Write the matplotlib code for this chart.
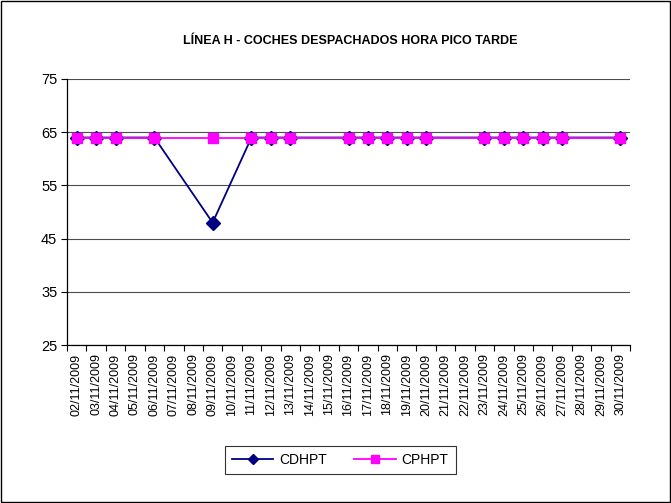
import matplotlib
matplotlib.use("Agg")
import matplotlib.pyplot as plt
from matplotlib.ticker import FixedLocator

plt.rcParams['font.family'] = ['Liberation Sans', 'DejaVu Sans']

categories = [f"{d:02d}/11/2009" for d in range(2, 31)]
data_days = [2, 3, 4, 6, 9, 11, 12, 13, 16, 17, 18, 19, 20, 23, 24, 25, 26, 27, 30]
cdhpt = [64, 64, 64, 64, 48, 64, 64, 64, 64, 64, 64, 64, 64, 64, 64, 64, 64, 64, 64]
cphpt = [64, 64, 64, 64, 64, 64, 64, 64, 64, 64, 64, 64, 64, 64, 64, 64, 64, 64, 64]
yticks = [25, 35, 45, 55, 65, 75]
title = "LÍNEA H - COCHES DESPACHADOS HORA PICO TARDE"

fig = plt.figure(figsize=(6.71, 5.03), dpi=100)
ax = fig.add_axes([0.0999, 0.314, 0.839, 0.529])

xs = [categories.index(f"{d:02d}/11/2009") for d in data_days]
ax.plot(xs, cdhpt, color='#000080', lw=1.3, marker='D', ms=7, mfc='#000080', mec='#000080', label='CDHPT', zorder=3)
ax.plot(xs, cphpt, color='#FF00FF', lw=1.3, marker='s', ms=7.5, mfc='#FF00FF', mec='#FF00FF', label='CPHPT', zorder=4)

ax.set_xlim(-0.5, len(categories) - 0.5)
ax.set_ylim(yticks[0], yticks[-1])
ax.yaxis.set_major_locator(FixedLocator(yticks))
ax.grid(axis='y', color='#000000', lw=0.8, alpha=0.7)
ax.set_axisbelow(True)

ax.set_xticks(range(len(categories)))
ax.set_xticklabels(categories, rotation=90, fontsize=9)
ax.xaxis.set_minor_locator(FixedLocator([i - 0.5 for i in range(len(categories) + 1)]))
ax.tick_params(axis='x', which='major', length=0, pad=6)
ax.tick_params(axis='x', which='minor', length=4, direction='out', width=0.8)
ax.tick_params(axis='y', labelsize=10.5, length=4, width=0.8, pad=3)

for s in ['top', 'right']:
    ax.spines[s].set_visible(False)
for s in ['left', 'bottom']:
    ax.spines[s].set_color('#000000')
    ax.spines[s].set_linewidth(0.9)

fig.text(0.522, 0.918, title, ha='center', va='center', fontsize=9, fontweight='bold')

leg = fig.legend(loc='center', bbox_to_anchor=(0.507, 0.085), ncol=2, fontsize=10,
                 frameon=True, fancybox=False, edgecolor='black', handlelength=3.0,
                 columnspacing=2.0, handletextpad=0.4, borderpad=0.5, markerscale=0.8)
leg.get_frame().set_linewidth(0.8)

border = plt.Rectangle((0.001, 0.001), 0.997, 0.997, transform=fig.transFigure,
                       fill=False, edgecolor='black', lw=1.0)
fig.patches.append(border)

fig.savefig("out.png", dpi=100)
